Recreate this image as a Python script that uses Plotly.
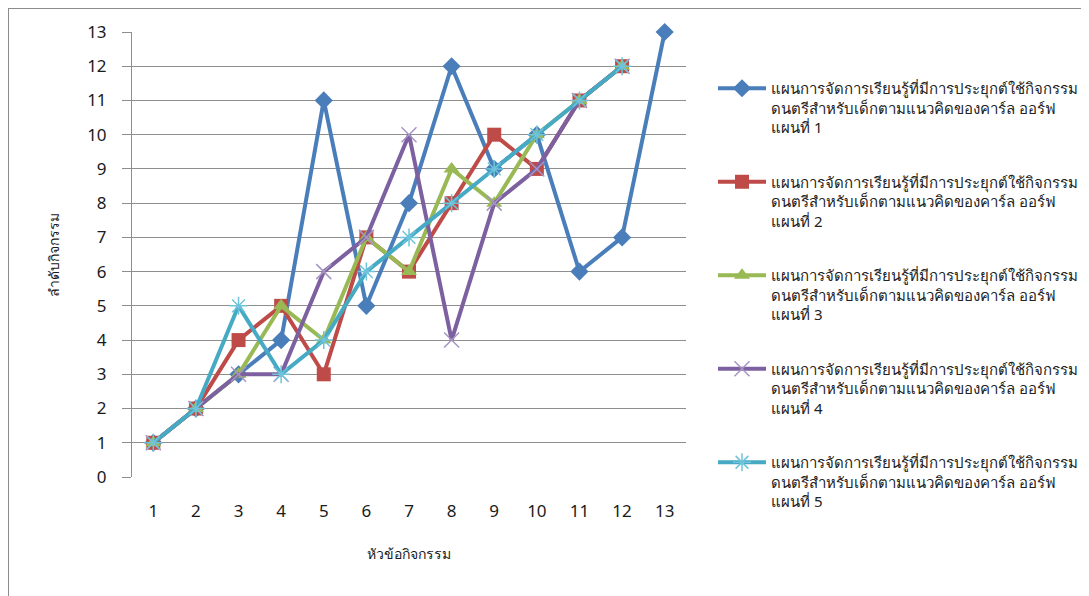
import plotly.graph_objects as go

x_cats = list(range(1, 14))
plan1 = [1, 2, 3, 4, 11, 5, 8, 12, 9, 10, 6, 7, 13]
plan2 = [1, 2, 4, 5, 3, 7, 6, 8, 10, 9, 11, 12]
plan3 = [1, 2, 3, 5, 4, 7, 6, 9, 8, 10, 11, 12]
plan4 = [1, 2, 3, 3, 6, 7, 10, 4, 8, 9, 11, 12]
plan5 = [1, 2, 5, 3, 4, 6, 7, 8, 9, 10, 11, 12]

base_name = "แผนการจัดการเรียนรู้ที่มีการประยุกต์ใช้กิจกรรม<br>ดนตรีสำหรับเด็กตามแนวคิดของคาร์ล ออร์ฟ<br>แผนที่ "
names = [base_name + str(i) for i in range(1, 6)]
series = [plan1, plan2, plan3, plan4, plan5]
colors = ["#4A7EBB", "#BE4B48", "#98B954", "#7D60A0", "#46AAC5"]
marker_colors = ["#4A7EBB", "#BE4B48", "#98B954", "#A795C4", "#6FC3DA"]
symbols = ["diamond", "square", "triangle-up", "x-thin", "asterisk"]
sizes = [14, 14, 14, 15, 15]

# page body has an 8px margin, so figure pixel coords = screen coords - 8
OFF = 8
W, H = 1089, 596
L, R, T, B = 132 - OFF, 686 - OFF, 32 - OFF, 477 - OFF

fig = go.Figure()
for i, (vals, nm, c, mc, sym, sz) in enumerate(zip(series, names, colors, marker_colors, symbols, sizes)):
    line_marker = dict(symbol=sym, size=sz, color=mc)
    if sym in ("x-thin", "asterisk"):
        line_marker["line"] = dict(color=mc, width=1.5)
    fig.add_trace(go.Scatter(
        x=x_cats[:len(vals)], y=vals, name=nm, mode="lines+markers",
        line=dict(color=c, width=4), marker=line_marker,
        legendgroup="g%d" % i, cliponaxis=False,
    ))

def px_x(p):
    return (p - OFF - L) / (R - L)

def px_y(p):
    return (B - (p - OFF)) / (B - T)

fig.update_layout(
    width=W, height=H,
    margin=dict(l=L, r=W - R, t=T, b=H - B, pad=0, autoexpand=False),
    paper_bgcolor="white", plot_bgcolor="white",
    font=dict(family="Noto Sans, Tahoma, sans-serif", color="#1a1a1a"),
    showlegend=True,
    legend=dict(
        x=px_x(713), xanchor="left",
        yref="container", y=1 - (72 - OFF) / H, yanchor="top",
        maxheight=1,
        font=dict(size=15, color="#222222"),
        valign="top", tracegroupgap=32, itemwidth=48,
        bgcolor="rgba(0,0,0,0)",
    ),
    xaxis=dict(
        range=[0.5, 13.5], tickmode="array", tickvals=x_cats,
        ticktext=[str(v) for v in x_cats],
        showgrid=False, zeroline=False, showline=False,
        tickfont=dict(size=17), ticklabelstandoff=22, automargin=False,
        title=dict(text="หัวข้อกิจกรรม", font=dict(size=14), standoff=28),
    ),
    yaxis=dict(
        range=[0, 13], dtick=1, showgrid=True, gridcolor="#8E8E8E", gridwidth=1,
        zeroline=False, showline=True, linecolor="#8E8E8E", linewidth=1,
        ticks="outside", ticklen=9, tickcolor="#8E8E8E",
        tickfont=dict(size=17), ticklabelstandoff=12, automargin=False,
        title=dict(text="ลำดับกิจกรรม", font=dict(size=14), standoff=24),
    ),
    shapes=[dict(
        type="rect", xref="paper", yref="paper",
        x0=px_x(8), x1=px_x(1120), y0=px_y(8), y1=px_y(640),
        line=dict(color="#8C8C8C", width=2), layer="below",
    )],
)

fig.write_html("out.html")
